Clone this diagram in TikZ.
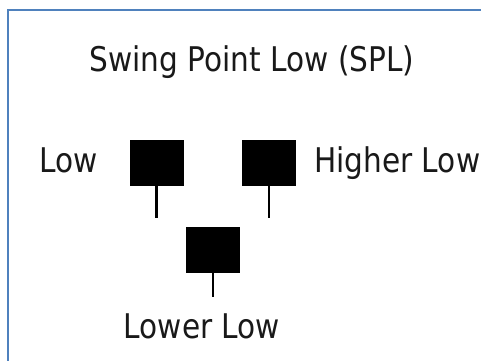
\documentclass[tikz,border=0pt]{standalone}
\usepackage{fontspec}
\setmainfont[FakeStretch=0.87]{DejaVu Sans}
\definecolor{frameblue}{HTML}{4F81BD}
\tikzset{
  lbl/.style={anchor=base, inner sep=0pt, font=\fontsize{34}{34}\selectfont, text=black!90},
  body/.style={fill=black, draw=black, minimum width=53pt, minimum height=45pt, inner sep=0pt},
  wick/.style={draw=black, line width=2.4pt},
}
\begin{document}
\begin{tikzpicture}[x=1pt,y=-1pt]
  \useasboundingbox (0,0) rectangle (481,360);
  \fill[white] (0,0) rectangle (481,360);
  % frame, running past the right and bottom edges
  \begin{scope}
    \clip (0,0) rectangle (481,360);
    \draw[frameblue, line width=2.2pt] (8,10) rectangle (520,400);
  \end{scope}

  % title
  \node[lbl] (title) at (252,71) {Swing Point Low (SPL)};

  % candles
  \node[body] (c1) at (156.5,162.5) {};
  \node[body] (c2) at (269,162.5) {};
  \node[body] (c3) at (213,249.5) {};
  \coordinate (w1) at (156.5,218);
  \coordinate (w2) at (269,218);
  \coordinate (w3) at (213,297);
  \draw[wick] (c1.south) -- (w1);
  \draw[wick] (c2.south) -- (w2);
  \draw[wick] (c3.south) -- (w3);

  % labels
  \node[lbl, anchor=base west] (low) at (39,172) {Low};
  \node[lbl, anchor=base west] (higher) at (314,172) {Higher Low};
  \node[lbl] (lower) at (202,338) {Lower Low};
\end{tikzpicture}
\end{document}
